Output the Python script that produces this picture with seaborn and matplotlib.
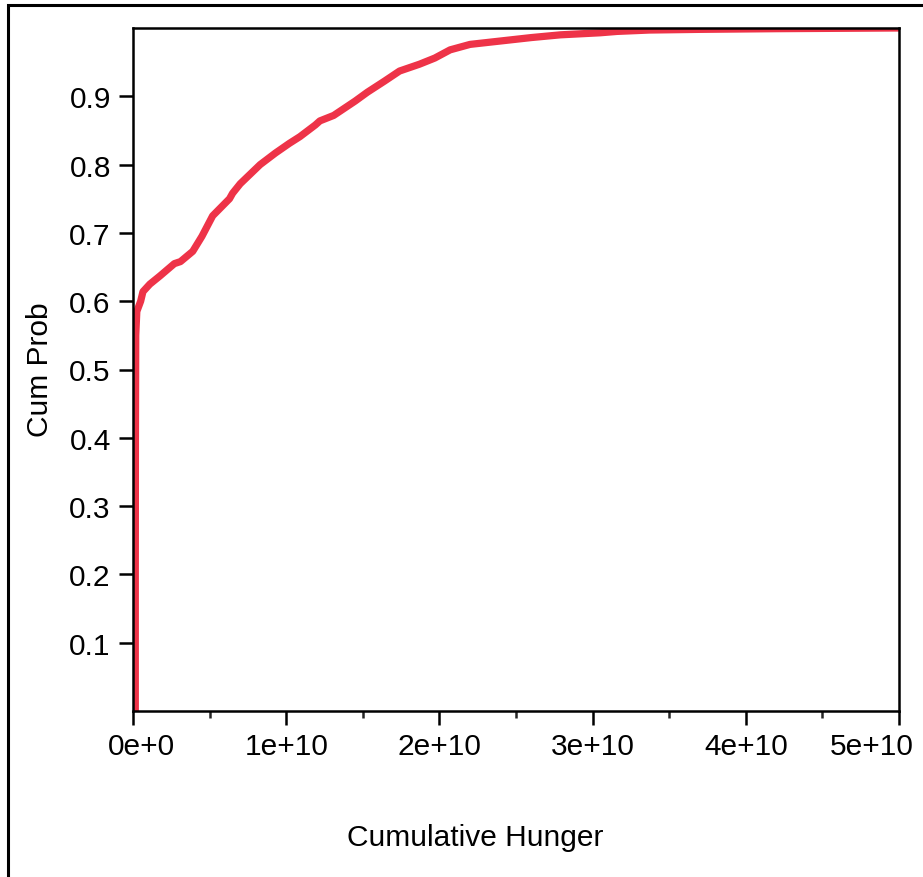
import matplotlib
matplotlib.use("Agg")
import matplotlib.pyplot as plt
import matplotlib.patches as mpatches
import matplotlib.transforms as mtransforms
import seaborn as sns
import pandas as pd
from matplotlib.ticker import MultipleLocator, FixedLocator

# Data (cumulative hunger vs cumulative probability)
hunger = [1.5e8, 1.5e8, 1.6e8, 1.8e8, 2.5e8, 5e8, 6.5e8, 1.1e9, 1.76e9, 2.7e9, 3.1e9,
          3.9e9, 4.5e9, 5.2e9, 6.3e9, 6.5e9, 7.0e9, 8.3e9, 9.3e9, 1.02e10,
          1.09e10, 1.19e10, 1.22e10, 1.31e10, 1.35e10, 1.45e10, 1.53e10, 1.64e10,
          1.74e10, 1.87e10, 1.97e10, 2.07e10, 2.2e10, 2.4e10, 2.6e10, 2.79e10,
          3.05e10, 3.16e10, 3.37e10, 3.7e10, 4.2e10, 5.0e10]
cum_prob = [0.0, 0.2, 0.4, 0.55, 0.585, 0.6, 0.614, 0.625, 0.637, 0.655, 0.658,
            0.673, 0.695, 0.725, 0.75, 0.758, 0.772, 0.80, 0.817, 0.831,
            0.841, 0.858, 0.864, 0.872, 0.878, 0.893, 0.906, 0.922,
            0.937, 0.947, 0.956, 0.968, 0.976, 0.981, 0.986, 0.99,
            0.993, 0.995, 0.997, 0.998, 0.999, 1.0]
y_ticks = [0.1, 0.2, 0.3, 0.4, 0.5, 0.6, 0.7, 0.8, 0.9]
x_ticks = [0, 1e10, 2e10, 3e10, 4e10, 5e10]
x_tick_labels = ["0e+0", "1e+10", "2e+10", "3e+10", "4e+10", "5e+10"]

df = pd.DataFrame({"hunger": hunger, "cum_prob": cum_prob})

sns.set_style("ticks")
plt.rcParams["font.family"] = ["Liberation Sans", "DejaVu Sans"]
plt.rcParams["text.color"] = "black"

W, H = 923, 878
FS = 21.5
fig = plt.figure(figsize=(W / 100, H / 100), dpi=100)
ax = fig.add_axes([133 / W, 1 - 712 / H, (899 - 133) / W, (712 - 29) / H])

sns.lineplot(data=df, x="hunger", y="cum_prob", ax=ax, color="#EE3348",
             linewidth=5.2, sort=False, estimator=None)

ax.set_xlim(0, 5e10)
ax.set_ylim(0, 1.0)
ax.xaxis.set_major_locator(FixedLocator(x_ticks))
ax.set_xticklabels(x_tick_labels)
ax.xaxis.set_minor_locator(MultipleLocator(0.5e10))
ax.yaxis.set_major_locator(FixedLocator(y_ticks))
ax.set_yticklabels([f"{v:.1f}" for v in y_ticks])
ax.set_xlabel("")
ax.set_ylabel("")

for s in ax.spines.values():
    s.set_visible(True)
    s.set_linewidth(1.8)
    s.set_color("black")
ax.tick_params(axis="both", which="major", direction="out", length=10, width=1.8,
               labelsize=FS, colors="black", labelcolor="black")
ax.tick_params(axis="y", which="major", pad=6)
ax.tick_params(axis="x", which="major", pad=5)
ax.tick_params(axis="x", which="minor", direction="out", length=5, width=1.8)

labels = ax.get_xticklabels()
labels[0].set_transform(labels[0].get_transform() +
                        mtransforms.ScaledTranslation(8 / 100, 0, fig.dpi_scale_trans))
labels[-1].set_transform(labels[-1].get_transform() +
                         mtransforms.ScaledTranslation(-27 / 100, 0, fig.dpi_scale_trans))

fig.text(475 / W, 1 - 838 / H, "Cumulative Hunger", ha="center", va="center",
         fontsize=FS, color="black")
fig.text(40 / W, 1 - 370 / H, "Cum Prob", ha="center", va="center", rotation=90,
         fontsize=FS, color="black")

# outer frame
fig.patches.append(mpatches.Rectangle((8 / W, -0.05), 1.1, 1 - 6 / H + 0.05,
                                      transform=fig.transFigure, fill=False,
                                      edgecolor="black", linewidth=2.2))

fig.savefig("out.png", dpi=100)
